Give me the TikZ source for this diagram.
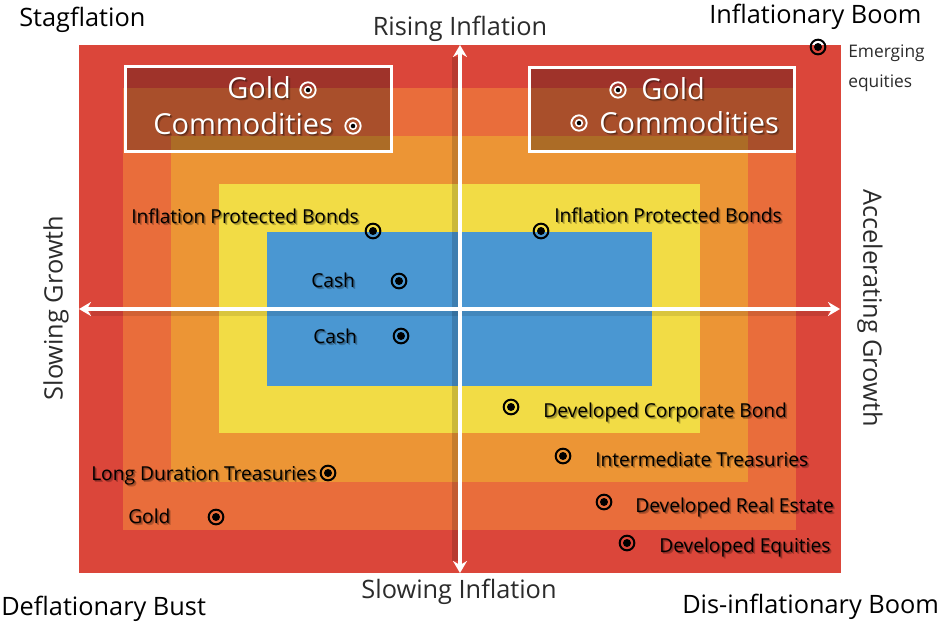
\documentclass[tikz,border=0pt]{standalone}
\usepackage{fontspec}
\setmainfont{Open Sans}
\usetikzlibrary{arrows.meta,calc}

\definecolor{zoneA}{HTML}{DB463A}
\definecolor{zoneB}{HTML}{E96D3B}
\definecolor{zoneC}{HTML}{EC9535}
\definecolor{zoneD}{HTML}{F2DC45}
\definecolor{zoneE}{HTML}{4A97D2}
\definecolor{axislabel}{HTML}{2B2B2B}

% label with a soft drop shadow: name, position, style, text
\newcommand{\shlabel}[4]{%
  \node[#3, text=black, text opacity=0.22] at ($(#2)+(2,2)$) {#4};
  \node[#3, text=black, text opacity=0.30] at ($(#2)+(1,1)$) {#4};
  \node[#3] (#1) at (#2) {#4};}

\begin{document}
\begin{tikzpicture}[x=0.75pt,y=-0.75pt,
  corner/.style={font=\fontsize{19}{22}\selectfont, text=black, inner sep=0pt, anchor=base west},
  axistext/.style={font=\fontsize{19}{22}\selectfont, text=axislabel, inner sep=0pt},
  asset/.style={font=\fontsize{14.4}{17}\selectfont, text=black, inner sep=0pt, anchor=base west},
  boxtext/.style={font=\fontsize{21.7}{25}\selectfont, text=white, inner sep=0pt, anchor=base west},
  note/.style={font=\fontsize{13}{16}\selectfont, text=axislabel, inner sep=0pt, anchor=base west},
  dotmark/.style={circle, draw=black, line width=1.5pt, minimum size=11pt, inner sep=0pt,
    path picture={\fill[black] (path picture bounding box.center) circle (3pt);}},
  ringmark/.style={circle, draw=white, line width=1.4pt, minimum size=11.5pt, inner sep=0pt,
    path picture={\fill[white] (path picture bounding box.center) circle (3.1pt);
                  \fill[black] (path picture bounding box.center) circle (1.7pt);}},
  pickbox/.style={draw=white, line width=2.25pt, fill=black, fill opacity=0.27},
  axisline/.style={draw=white, line width=3pt, {Stealth[length=9pt,width=10.5pt,inset=3pt]}-{Stealth[length=9pt,width=10.5pt,inset=3pt]}},
  axisshade/.style={draw=black, line width=5pt, opacity=0.16}
]
\useasboundingbox (0,0) rectangle (945,622);
\fill[white] (0,0) rectangle (945,622);

% nested risk zones
\fill[zoneA] (79,45) rectangle (841,573);
\fill[zoneB] (123,88) rectangle (796,530);
\fill[zoneC] (171,136) rectangle (748,482);
\fill[zoneD] (219,184) rectangle (700,433);
\fill[zoneE] (267,232) rectangle (652,386);

% highlighted holdings boxes
\draw[pickbox] (125.5,66.5) rectangle (391.5,151.5);
\draw[pickbox] (529.5,67.5) rectangle (794.5,151.5);

% axes
\coordinate (axT) at (460,45);
\coordinate (axB) at (460,573);
\coordinate (axL) at (79,309);
\coordinate (axR) at (840,309);
\draw[axisshade] ($(axT)+(-5,12)$) -- ($(axB)+(-5,-12)$);
\draw[axisshade, opacity=0.10] ($(axL)+(12,4)$) -- ($(axR)+(-12,4)$);
\draw[axisline] (axL) -- (axR);
\draw[axisline] (axB) -- (axT);

% regime names
\node[corner] (stag) at (19,26) {Stagflation};
\node[corner] (infboom) at (709,23) {Inflationary Boom};
\node[corner] (defbust) at (1,615) {Deflationary Bust};
\node[corner] (disboom) at (682,613) {Dis-inflationary Boom};

% axis names
\node[axistext, anchor=base] (rising) at (460,35) {Rising Inflation};
\node[axistext, anchor=base] (slowinf) at (459,598) {Slowing Inflation};
\node[axistext, rotate=90] (slowgr) at (56,308) {Slowing Growth};
\node[axistext, rotate=-90] (accgr) at (870,308) {Accelerating Growth};

% boxed holdings
\shlabel{goldL}{227,98}{boxtext}{Gold}
\shlabel{commL}{153,134}{boxtext}{Commodities}
\shlabel{goldR}{641,99}{boxtext}{Gold}
\shlabel{commR}{599,133}{boxtext}{Commodities}
\node[ringmark] (mGoldL) at (308,90) {};
\node[ringmark] (mCommL) at (353,126) {};
\node[ringmark] (mGoldR) at (618,90) {};
\node[ringmark] (mCommR) at (579,123) {};

% emerging equities
\node[dotmark] (mEm) at (818,47) {};
\node[note] (em1) at (848,57) {Emerging};
\node[note] (em2) at (848,87) {equities};

% asset labels
\shlabel{ipbL}{131,223}{asset}{Inflation Protected Bonds}
\shlabel{ipbR}{554,222}{asset}{Inflation Protected Bonds}
\shlabel{cashA}{311,287}{asset}{Cash}
\shlabel{cashB}{313,343}{asset}{Cash}
\shlabel{ldt}{91,480}{asset}{Long Duration Treasuries}
\shlabel{goldB}{128,523}{asset}{Gold}
\shlabel{dcb}{543,417}{asset}{Developed Corporate Bond}
\shlabel{itr}{595,466}{asset}{Intermediate Treasuries}
\shlabel{dre}{635,512}{asset}{Developed Real Estate}
\shlabel{deq}{659,552}{asset}{Developed Equities}

% asset markers
\node[dotmark] (mIpbL) at (373,231) {};
\node[dotmark] (mIpbR) at (541,231) {};
\node[dotmark] (mCashA) at (399,281) {};
\node[dotmark] (mCashB) at (401,336) {};
\node[dotmark] (mLdt) at (328,473) {};
\node[dotmark] (mGoldB) at (216,517) {};
\node[dotmark] (mDcb) at (511,407) {};
\node[dotmark] (mItr) at (563,456) {};
\node[dotmark] (mDre) at (604,502) {};
\node[dotmark] (mDeq) at (627,543) {};
\end{tikzpicture}
\end{document}
